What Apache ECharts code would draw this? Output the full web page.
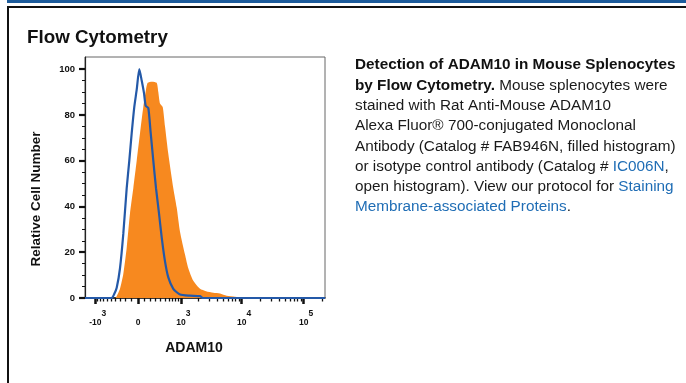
<!DOCTYPE html>
<html>
<head>
<meta charset="utf-8">
<script src="https://cdn.jsdelivr.net/npm/echarts@6/dist/echarts.min.js"></script>
<style>
  html, body { margin: 0; padding: 0; background: #fff; }
  #chart { width: 686px; height: 383px; }
</style>
</head>
<body>
<div id="chart"></div>
<script>
// Histogram positions are in display channels of a biexponential axis (0..240).
const isotypeChannel = [0, 26.7, 29, 31.7, 35, 38.3, 41.7, 44.3, 46.7, 49.3, 51.7, 54.3, 56.7, 59, 60.7, 63.3, 65.7, 68.3, 71, 74, 76.7, 80, 83.3, 88.3, 95, 105, 115, 118, 240];
const isotypeCount   = [0, 0, 1.5, 4.5, 13, 28, 48, 60, 72, 83.5, 91, 100, 95, 89.5, 84, 83, 72, 60, 48, 37, 26.5, 16, 9, 4, 1.5, 1, 0.8, 0, 0];

const stainedChannel = [0, 30, 33, 35, 38.3, 41.7, 45, 48.3, 51.7, 55, 58.3, 61, 62.7, 67, 71.7, 73.3, 75, 77.7, 80, 83.3, 88.3, 91.7, 95, 100, 103.3, 108.3, 115, 121, 128.3, 135, 141.7, 150, 158.3, 160, 240];
const stainedCount   = [0, 0, 2, 4, 10.5, 22, 37, 48, 60, 72, 83.5, 91, 94, 94.5, 94, 90, 85, 83.5, 75, 63, 48, 39.5, 29, 19, 13, 7.5, 4, 3, 2.3, 2, 1, 0.6, 0.3, 0, 0];

// Axis tick values in fluorescence intensity
const xMajorValues = [-1000, 0, 1000, 10000, 100000];
const xMajorBase   = ['-10', '0', '10', '10', '10'];
const xMajorExp    = ['3', '', '3', '4', '5'];
const xMinorValues = [-900, -800, -700, -600, -500, -400, -300, -200, -100,
  100, 200, 300, 400, 500, 600, 700, 800, 900,
  2000, 3000, 4000, 5000, 6000, 7000, 8000, 9000,
  20000, 30000, 40000, 50000, 60000, 70000, 80000, 90000, 200000];
const yMajorValues = [0, 20, 40, 60, 80, 100];
const yMinorValues = [5, 10, 15, 25, 30, 35, 45, 50, 55, 65, 70, 75, 85, 90, 95];

// Biexponential display transform (intensity -> channel)
const biex = v => 53 + 26.9 * Math.asinh(v / 424);

const FONT = '"Liberation Sans", Arial, Helvetica, sans-serif';
const pairs = (xs, ys) => xs.map((x, i) => [x, ys[i]]);

const chart = echarts.init(document.getElementById('chart'), null, { renderer: 'canvas' });

const majorCh = xMajorValues.map(biex);
const minorCh = xMinorValues.map(biex);

function xTickLabel(val) {
  let idx = 0, best = Infinity;
  majorCh.forEach((c, i) => { const d = Math.abs(c - val); if (d < best) { best = d; idx = i; } });
  return xMajorExp[idx]
    ? '{b|' + xMajorBase[idx] + '}{s|' + xMajorExp[idx] + '}'
    : '{z|' + xMajorBase[idx] + '}';
}

chart.setOption({
  animation: false,
  backgroundColor: '#ffffff',
  grid: {
    left: 85, top: 57, width: 240, height: 241,
    show: true, borderColor: '#666', borderWidth: 1, backgroundColor: 'transparent'
  },
  xAxis: [
    {
      type: 'value', min: 0, max: 240, position: 'bottom',
      axisLine: { show: true, onZero: false, lineStyle: { color: '#111', width: 1.5 } },
      axisTick: { show: true, customValues: majorCh, length: 6, lineStyle: { color: '#111', width: 2.5 } },
      axisLabel: {
        show: true, customValues: majorCh, margin: 11,
        formatter: xTickLabel,
        rich: {
          b: { fontSize: 8.5, fontWeight: 'bold', fontFamily: FONT, color: '#111', padding: [9, 0, 0, 5] },
          z: { fontSize: 8.5, fontWeight: 'bold', fontFamily: FONT, color: '#111', padding: [9, 0, 0, 0] },
          s: { fontSize: 8.5, fontWeight: 'bold', fontFamily: FONT, color: '#111', verticalAlign: 'top' }
        }
      },
      splitLine: { show: false }
    },
    {
      type: 'value', min: 0, max: 240, position: 'bottom', gridIndex: 0,
      axisLine: { show: false, onZero: false },
      axisTick: { show: true, customValues: minorCh, length: 3.5, lineStyle: { color: '#111', width: 1.3 } },
      axisLabel: { show: false },
      splitLine: { show: false }
    }
  ],
  yAxis: [
    {
      type: 'value', min: 0, max: 105.3, position: 'left',
      axisLine: { show: true, onZero: false, lineStyle: { color: '#222', width: 1.2 } },
      axisTick: { show: true, customValues: yMajorValues, length: 6, lineStyle: { color: '#111', width: 2.2 } },
      axisLabel: { show: true, customValues: yMajorValues, margin: 10, fontSize: 9.5, fontWeight: 'bold', fontFamily: FONT, color: '#111' },
      splitLine: { show: false }
    },
    {
      type: 'value', min: 0, max: 105.3, position: 'left', gridIndex: 0,
      axisLine: { show: false, onZero: false },
      axisTick: { show: true, customValues: yMinorValues, length: 3, lineStyle: { color: '#111', width: 1 } },
      axisLabel: { show: false },
      splitLine: { show: false }
    }
  ],
  series: [
    {
      name: 'FAB946N', type: 'line', xAxisIndex: 0, yAxisIndex: 0,
      data: pairs(stainedChannel, stainedCount),
      showSymbol: false, smooth: 0.2,
      lineStyle: { width: 0, color: '#f7891f' },
      areaStyle: { color: '#f7891f', opacity: 1 },
      z: 2
    },
    {
      name: 'IC006N', type: 'line', xAxisIndex: 0, yAxisIndex: 0,
      data: pairs(isotypeChannel, isotypeCount),
      showSymbol: false, smooth: 0.2,
      lineStyle: { width: 2.2, color: '#2459a8' },
      z: 3
    }
  ],
  graphic: [
    { type: 'rect', shape: { x: 7, y: 0, width: 679, height: 3 }, style: { fill: '#1d5c9c' }, silent: true },
    { type: 'rect', shape: { x: 7, y: 6, width: 679, height: 2 }, style: { fill: '#111' }, silent: true },
    { type: 'rect', shape: { x: 7, y: 6, width: 2, height: 377 }, style: { fill: '#111' }, silent: true },
    {
      type: 'text', left: 27, top: 28,
      style: { text: 'Flow Cytometry', font: 'bold 18.8px ' + FONT, fill: '#111' }
    },
    {
      type: 'text', x: 36.5, y: 199, rotation: Math.PI / 2,
      style: { text: 'Relative Cell Number', font: 'bold 13.5px ' + FONT, fill: '#111', align: 'center', verticalAlign: 'middle' }
    },
    {
      type: 'text', x: 194, y: 348,
      style: { text: 'ADAM10', font: 'bold 14px ' + FONT, fill: '#111', align: 'center', verticalAlign: 'middle' }
    },
    {
      type: 'text', x: 355, y: 55,
      style: {
        text: [
          '{b|Detection of ADAM10 in Mouse Splenocytes}',
          '{b|by Flow Cytometry.}{t| Mouse splenocytes were}',
          '{t|stained with Rat Anti-Mouse ADAM10}',
          '{t|Alexa Fluor® 700-conjugated Monoclonal}',
          '{t|Antibody (Catalog # FAB946N, filled histogram)}',
          '{t|or isotype control antibody (Catalog # }{a|IC006N}{t|,}',
          '{t|open histogram). View our protocol for }{a|Staining}',
          '{a|Membrane-associated Proteins}{t|.}'
        ].join('\n'),
        verticalAlign: 'top', align: 'left',
        rich: {
          b: { fontSize: 15.3, fontWeight: 'bold', fontFamily: FONT, fill: '#111', lineHeight: 20.3 },
          t: { fontSize: 15.3, fontFamily: FONT, fill: '#1a1a1a', lineHeight: 20.3 },
          a: { fontSize: 15.3, fontFamily: FONT, fill: '#1f6db5', lineHeight: 20.3 }
        }
      }
    }
  ]
});
</script>
</body>
</html>
